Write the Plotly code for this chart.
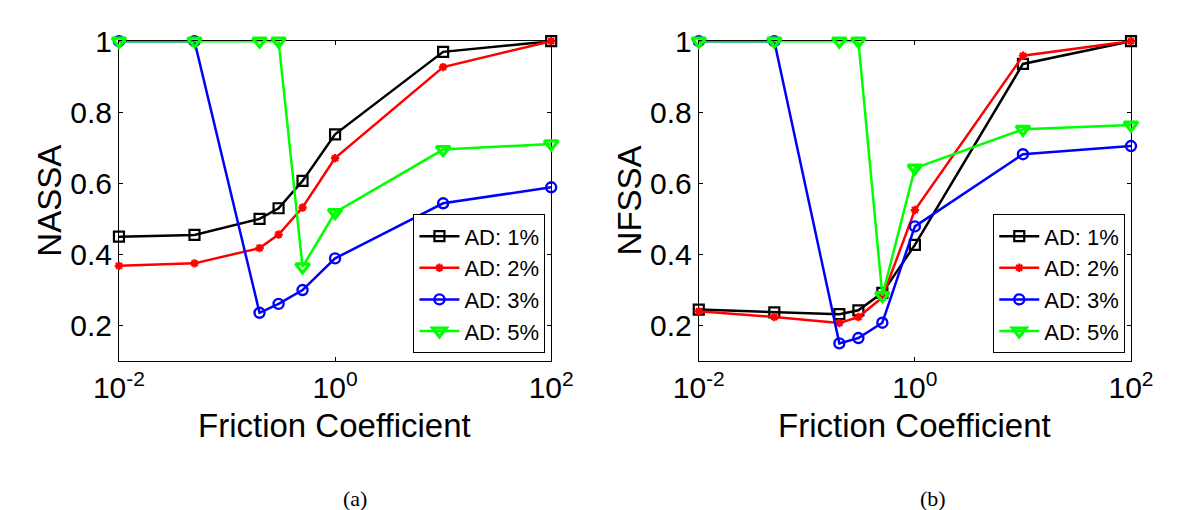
import plotly.graph_objects as go

# Friction coefficient sweep (log scale)
friction = [0.01, 0.05, 0.2, 0.3, 0.5, 1, 10, 100]

# NASSA per attack density
nassa_ad1 = [0.450, 0.455, 0.500, 0.530, 0.607, 0.738, 0.970, 1.0]
nassa_ad2 = [0.368, 0.375, 0.418, 0.456, 0.532, 0.671, 0.927, 1.0]
nassa_ad3 = [1.0, 1.0, 0.236, 0.261, 0.300, 0.389, 0.544, 0.589]
nassa_ad5 = [1.0, 1.0, 1.0, 1.0, 0.365, 0.518, 0.695, 0.711]

# NFSSA per attack density
nfssa_ad1 = [0.245, 0.237, 0.232, 0.243, 0.292, 0.427, 0.936, 1.0]
nfssa_ad2 = [0.240, 0.224, 0.207, 0.224, 0.279, 0.525, 0.959, 1.0]
nfssa_ad3 = [1.0, 1.0, 0.150, 0.165, 0.208, 0.479, 0.682, 0.705]
nfssa_ad5 = [1.0, 1.0, 1.0, 1.0, 0.284, 0.643, 0.752, 0.764]

series_names = ["AD: 1%", "AD: 2%", "AD: 3%", "AD: 5%"]
x_tick_vals = [0.01, 1, 100]
x_tick_text = ["10<sup>-2</sup>", "10<sup>0</sup>", "10<sup>2</sup>"]
y_tick_vals = [0.2, 0.4, 0.6, 0.8, 1.0]
y_tick_text = ["0.2", "0.4", "0.6", "0.8", "1"]

W, H = 1177, 510
SANS = "Liberation Sans, Arial, sans-serif"
SERIF = "Liberation Serif, Times New Roman, serif"

styles = [
    dict(color="#000000", symbol="square-open", size=10, lw=2.2),
    dict(color="#FF0000", symbol="asterisk-open", size=7, lw=2.2),
    dict(color="#0000FF", symbol="circle-open", size=10, lw=2.4),
    dict(color="#00FF00", symbol="triangle-down-open", size=12, lw=3.2),
]

fig = go.Figure()

panels = [
    ("x", "y", "legend", [nassa_ad1, nassa_ad2, nassa_ad3, nassa_ad5]),
    ("x2", "y2", "legend2", [nfssa_ad1, nfssa_ad2, nfssa_ad3, nfssa_ad5]),
]
for xa, ya, leg, data in panels:
    for name, vals, st in zip(series_names, data, styles):
        fig.add_trace(go.Scatter(
            x=friction, y=vals, name=name, mode="lines+markers",
            xaxis=xa, yaxis=ya, legend=leg, cliponaxis=False,
            line=dict(color=st["color"], width=2.5),
            marker=dict(symbol=st["symbol"], size=st["size"],
                        color=st["color"], line=dict(color=st["color"], width=st["lw"])),
        ))

def px_x(p):
    return p / W

def px_y(p):
    return 1 - p / H

axis_common = dict(
    showline=True, linecolor="black", linewidth=1, mirror="ticks",
    ticks="inside", ticklen=4, tickcolor="black", showgrid=False,
    zeroline=False, layer="below traces",
    tickfont=dict(family=SANS, size=30, color="black"),
)

legend_common = dict(
    xanchor="right", yanchor="bottom", bordercolor="black", borderwidth=1,
    bgcolor="white", font=dict(family=SANS, size=22, color="black"),
    tracegroupgap=0, itemwidth=40,
)

fig.update_layout(
    width=W, height=H,
    margin=dict(l=0, r=0, t=0, b=0),
    paper_bgcolor="white", plot_bgcolor="white",
    xaxis=dict(type="log", range=[-2, 2], domain=[px_x(97), px_x(548)],
               anchor="y", tickvals=x_tick_vals, ticktext=x_tick_text, **axis_common),
    yaxis=dict(range=[0.1, 1.0], domain=[px_y(356), px_y(25)], anchor="x",
               tickvals=y_tick_vals, ticktext=y_tick_text, **axis_common),
    xaxis2=dict(type="log", range=[-2, 2], domain=[px_x(702), px_x(1153)],
                anchor="y2", tickvals=x_tick_vals, ticktext=x_tick_text, **axis_common),
    yaxis2=dict(range=[0.1, 1.0], domain=[px_y(356), px_y(25)], anchor="x2",
                tickvals=y_tick_vals, ticktext=y_tick_text, **axis_common),
    legend=dict(x=px_x(542), y=px_y(348), **legend_common),
    legend2=dict(x=px_x(1147), y=px_y(348), **legend_common),
    showlegend=True,
)

def label(text, x, y, size, family=SANS, angle=0):
    fig.add_annotation(text=text, x=px_x(x), y=px_y(y), xref="paper", yref="paper",
                       xanchor="center", yanchor="middle", showarrow=False,
                       textangle=angle, font=dict(family=family, size=size, color="black"))

label("NASSA", 25, 190, 33, angle=-90)
label("NFSSA", 630, 190, 33, angle=-90)
label("Friction Coefficient", 322, 423, 33)
label("Friction Coefficient", 927, 423, 33)
label("(a)", 343, 498, 22, family=SERIF)
label("(b)", 946, 498, 22, family=SERIF)

fig.write_html("out.html")
